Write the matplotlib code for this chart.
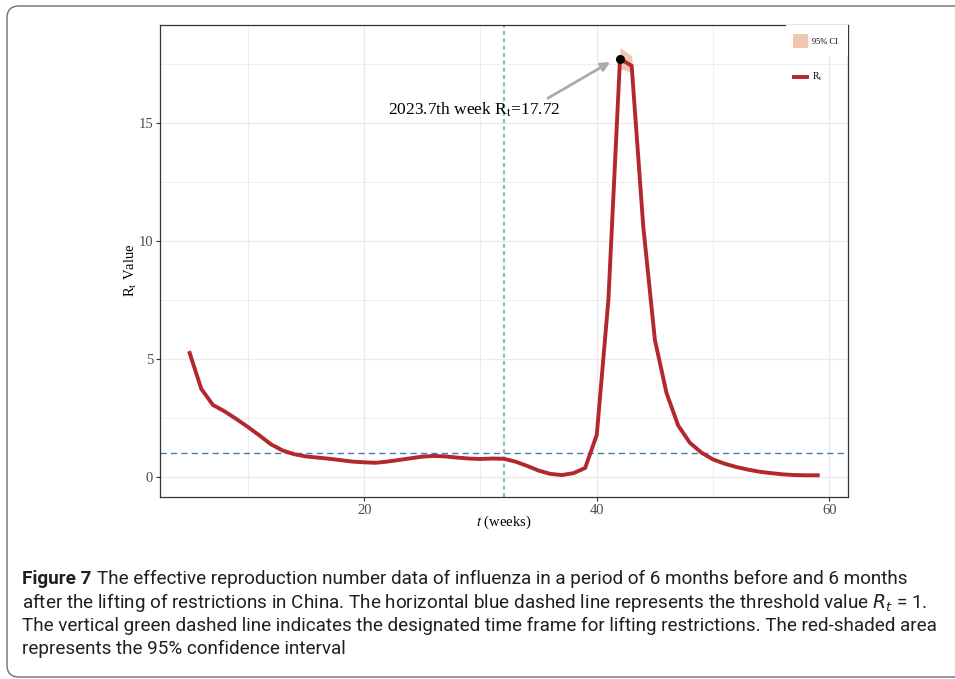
import matplotlib
matplotlib.use('Agg')
import matplotlib.pyplot as plt
from matplotlib.patches import FancyBboxPatch, Rectangle
from matplotlib.lines import Line2D

matplotlib.rcParams['mathtext.fontset'] = 'stix'
matplotlib.rcParams['font.family'] = ['Liberation Serif', 'DejaVu Serif']

# weekly effective reproduction number with 95% CI
weeks = list(range(5, 60))
rt = [5.25, 3.73, 3.05, 2.78, 2.46, 2.12, 1.76, 1.38, 1.12, 0.96,
      0.87, 0.82, 0.77, 0.71, 0.65, 0.62, 0.60, 0.65, 0.72, 0.79,
      0.86, 0.89, 0.87, 0.82, 0.78, 0.76, 0.78, 0.77, 0.65, 0.47,
      0.27, 0.13, 0.08, 0.16, 0.38, 1.78, 7.50, 17.72, 17.42, 10.60,
      5.80, 3.55, 2.18, 1.45, 1.03, 0.74, 0.56, 0.42, 0.31, 0.22,
      0.16, 0.11, 0.08, 0.07, 0.07]
ci_lo = [5.00, 3.65, 3.00, 2.74, 2.43, 2.09, 1.73, 1.35, 1.10, 0.94,
         0.85, 0.80, 0.75, 0.69, 0.63, 0.60, 0.58, 0.63, 0.70, 0.77,
         0.84, 0.87, 0.85, 0.80, 0.76, 0.74, 0.76, 0.75, 0.63, 0.45,
         0.25, 0.11, 0.06, 0.14, 0.36, 1.72, 7.35, 17.30, 17.15, 10.45,
         5.72, 3.50, 2.14, 1.42, 1.01, 0.72, 0.54, 0.40, 0.29, 0.20,
         0.14, 0.09, 0.06, 0.05, 0.05]
ci_hi = [5.50, 3.81, 3.10, 2.82, 2.49, 2.15, 1.79, 1.41, 1.14, 0.98,
         0.89, 0.84, 0.79, 0.73, 0.67, 0.64, 0.62, 0.67, 0.74, 0.81,
         0.88, 0.91, 0.89, 0.84, 0.80, 0.78, 0.80, 0.79, 0.67, 0.49,
         0.29, 0.15, 0.10, 0.18, 0.40, 1.84, 7.65, 18.20, 17.85, 10.75,
         5.88, 3.60, 2.22, 1.48, 1.05, 0.76, 0.58, 0.44, 0.33, 0.24,
         0.18, 0.13, 0.10, 0.09, 0.09]

peak_week = 42
peak_rt = 17.72
lift_week = 32
threshold = 1

line_col = '#B2282C'
ci_col = '#F0C6B0'
grid_col = '#EBEBEB'
tick_col = '#4D4D4D'

fig = plt.figure(figsize=(9.55, 6.79), dpi=100)
ax = fig.add_axes([160 / 955, 182 / 679, 688 / 955, 472 / 679])

ax.fill_between(weeks, ci_lo, ci_hi, color=ci_col, lw=0, zorder=2)
ax.plot(weeks, rt, color=line_col, lw=2.8, solid_joinstyle='miter', zorder=3)
ax.axhline(threshold, color='#3F7CBA', lw=1.0, linestyle=(0, (4.5, 3)), zorder=1.5)
ax.axvline(lift_week, color='#86C69C', lw=1.6, linestyle=(0, (1.8, 1.5)), zorder=1.5)
ax.plot([peak_week], [peak_rt], 'o', color='black', ms=5.5, zorder=4)

ax.annotate('', xy=(41.15, 17.58), xytext=(35.8, 16.05),
            arrowprops=dict(arrowstyle='-|>', color='#ABABAB', lw=2.0,
                            mutation_scale=13, shrinkA=0, shrinkB=0))
ax.text(29.5, 15.55, r'2023.7th week R$_\mathrm{t}$=%.2f' % peak_rt,
        ha='center', va='center', fontsize=12.5, color='black')

ax.set_xlim(2.45, 61.6)
ax.set_ylim(-0.85, 19.15)
ax.set_xticks([20, 40, 60])
ax.set_yticks([0, 5, 10, 15])
ax.set_xticks([10, 30, 50], minor=True)
ax.set_yticks([2.5, 7.5, 12.5, 17.5], minor=True)
ax.grid(True, which='major', color=grid_col, lw=1.0, zorder=0)
ax.grid(True, which='minor', color=grid_col, lw=0.6, zorder=0)
ax.set_axisbelow(True)
ax.tick_params(which='major', length=3, width=0.8, color='#333333',
               labelsize=10.5, labelcolor=tick_col, pad=2)
ax.tick_params(which='minor', length=0)
for s in ax.spines.values():
    s.set_color('#333333')
    s.set_linewidth(0.9)

ax.set_xlabel('$t$ (weeks)', fontsize=10.5)
ax.xaxis.set_label_coords(0.5, -0.036)
ax.set_ylabel(r'R$_\mathrm{t}$ Value', fontsize=10.5)
ax.yaxis.set_label_coords(-0.03, 0.48)

# legends drawn in axes fraction
def fx(px):
    return (px - 160) / 688.0

def fy(py):
    return (497 - py) / 472.0

ax.add_patch(Rectangle((fx(786), fy(56)), fx(848) - fx(786), fy(25) - fy(56),
                       transform=ax.transAxes, facecolor='white', lw=0, zorder=5))
ax.add_patch(Rectangle((fx(793), fy(48)), fx(808) - fx(793), fy(34) - fy(48),
                       transform=ax.transAxes, facecolor=ci_col, lw=0, zorder=6))
ax.text(fx(812), fy(41.5), '95% CI', transform=ax.transAxes, fontsize=6,
        va='center', ha='left', color='black', zorder=6)
ax.add_line(Line2D([fx(794), fx(807)], [fy(76.5), fy(76.5)], transform=ax.transAxes,
                   color=line_col, lw=2.8, zorder=6))
ax.text(fx(812), fy(77), r'R$_\mathrm{t}$', transform=ax.transAxes, fontsize=7,
        va='center', ha='left', color='black', zorder=6)

# outer frame
frame = FancyBboxPatch((7, 2), 970, 671, boxstyle='round,pad=0,rounding_size=12',
                       transform=None, facecolor='none', edgecolor='#6E6E6E', lw=1.0)
fig.patches.append(frame)

# caption, sized so the longest line ends at the right margin
cap_font = ['Roboto', 'Liberation Sans']
cap_col = '#231F20'
cap_lines = [
    'The effective reproduction number data of influenza in a period of 6 months before and 6 months',
    'after the lifting of restrictions in China. The horizontal blue dashed line represents the threshold value $R_t$ = 1.',
    'The vertical green dashed line indicates the designated time frame for lifting restrictions. The red-shaded area',
    'represents the 95% confidence interval',
]
baselines = [584, 607.5, 631, 654.5]
x0 = 22 / 955

cap_size = 12.0
head = fig.text(x0, 1 - baselines[0] / 679, 'Figure 7', family=cap_font, fontsize=cap_size,
                fontweight='bold', va='baseline', ha='left', color=cap_col)
body = [fig.text(x0, 1 - b / 679, line, family=cap_font, fontsize=cap_size,
                 va='baseline', ha='left', color=cap_col, math_fontfamily='dejavusans')
        for line, b in zip(cap_lines, baselines)]
renderer = fig.canvas.get_renderer()
for _ in range(3):
    bb = body[2].get_window_extent(renderer)
    cap_size *= (944 - 22) / (bb.x1 - bb.x0)
    head.set_fontsize(cap_size)
    for t in body:
        t.set_fontsize(cap_size)
hb = head.get_window_extent(renderer)
body[0].set_x((hb.x1 + 6) / 955)

fig.savefig('out.png', dpi=100)
